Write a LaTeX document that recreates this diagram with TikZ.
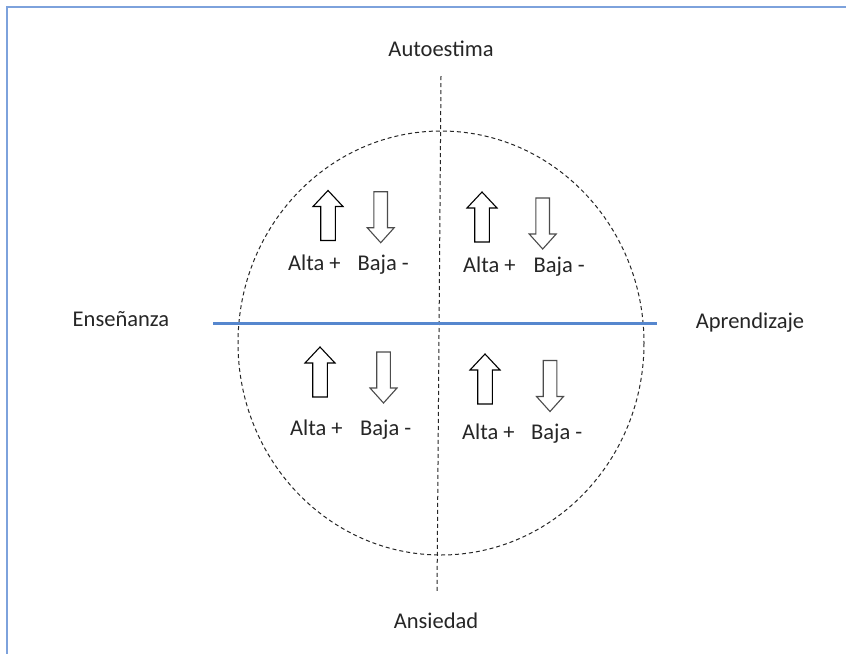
\documentclass[tikz,border=0pt]{standalone}
\usepackage{fontspec}
\setmainfont{Carlito}
\definecolor{frameblue}{RGB}{125,162,220}
\definecolor{axisblue}{RGB}{86,135,206}
\definecolor{txt}{RGB}{38,38,38}
\begin{document}
\begin{tikzpicture}[x=1pt,y=-1pt,
  lbl/.style={font=\fontsize{22.5}{25}\selectfont, text=txt, inner sep=0pt},
  dashline/.style={draw=black!85, line width=1pt, dash pattern=on 4pt off 3pt},
  uparrowshape/.style={draw=black, line width=1.1pt, fill=white, line join=miter},
  downarrowshape/.style={draw=black!70, line width=1.1pt, fill=white, line join=miter},
  uparr/.pic={\draw[uparrowshape] (0,0) -- (-15,16) -- (-7.3,16) -- (-7.3,50) -- (7.3,50) -- (7.3,16) -- (15,16) -- cycle;},
  downarr/.pic={\draw[downarrowshape] (0,0) -- (-13.5,-15) -- (-6.8,-15) -- (-6.8,-51) -- (6.8,-51) -- (6.8,-15) -- (13.5,-15) -- cycle;}
]
\useasboundingbox (0,0) rectangle (846,654);
\fill[white] (0,0) rectangle (846,654);
% frame
\coordinate (fTR) at (846,7);
\coordinate (fTL) at (7,7);
\coordinate (fBL) at (7,654);
\draw[frameblue, line width=2pt] (fTR) -- (fTL) -- (fBL);
% circle
\draw[dashline] (441,343) ellipse [x radius=203, y radius=212];
% vertical axis
\coordinate (vtop) at (441,76);
\coordinate (vbot) at (437,593);
\draw[dashline] (vtop) -- (vbot);
% horizontal axis
\coordinate (hl) at (213,323.5);
\coordinate (hr) at (657,323.5);
\draw[axisblue, line width=3.6pt] (hl) -- (hr);
% axis labels
\node[lbl, anchor=base] (auto) at (441,56.5) {Autoestima};
\node[lbl, anchor=base] (ens) at (121,326.5) {Enseñanza};
\node[lbl, anchor=base] (apr) at (750,328) {Aprendizaje};
\node[lbl, anchor=base] (ans) at (436,628) {Ansiedad};
% TL quadrant
\pic at (328,190.5) {uparr};
\pic at (380.7,242.7) {downarr};
\node[lbl, anchor=base west] (tla) at (288,270) {Alta +};
\node[lbl, anchor=base west] (tlb) at (357.5,270) {Baja -};
% TR quadrant
\pic at (482,192) {uparr};
\pic at (542.7,249) {downarr};
\node[lbl, anchor=base west] (tra) at (463,272) {Alta +};
\node[lbl, anchor=base west] (trb) at (533.5,272) {Baja -};
% BL quadrant
\pic at (320,347) {uparr};
\pic at (383.5,403) {downarr};
\node[lbl, anchor=base west] (bla) at (290,435) {Alta +};
\node[lbl, anchor=base west] (blb) at (360,435) {Baja -};
% BR quadrant
\pic at (485,354) {uparr};
\pic at (550,411.5) {downarr};
\node[lbl, anchor=base west] (bra) at (462,439) {Alta +};
\node[lbl, anchor=base west] (brb) at (531,439) {Baja -};
\end{tikzpicture}
\end{document}
